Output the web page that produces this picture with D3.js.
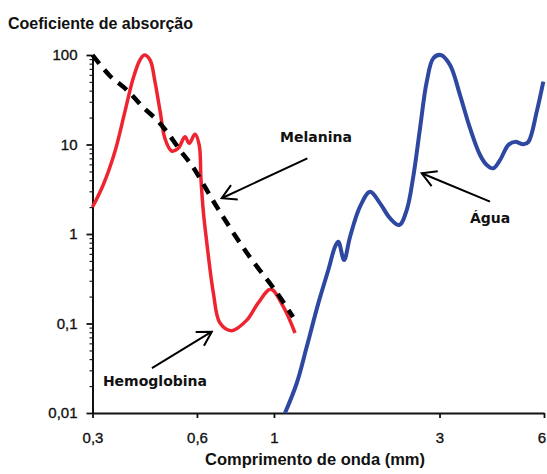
<!DOCTYPE html>
<html>
<head>
<meta charset="utf-8">
<script src="https://cdn.jsdelivr.net/npm/d3@7"></script>
<style>
  body { margin: 0; background: #fff; }
  svg { display: block; }
</style>
</head>
<body>
<div id="chart"></div>
<script>
// Hemoglobina (wavelength mm, absorption)
const hbX = [0.30, 0.322, 0.348, 0.372, 0.393, 0.411, 0.423, 0.4395, 0.454, 0.470, 0.485, 0.507, 0.530, 0.554, 0.570, 0.592, 0.609, 0.616, 0.626, 0.640, 0.669, 0.699, 0.755, 0.835, 0.90, 0.979, 1.064, 1.150];
const hbY = [2.0, 3.53, 8.31, 23.3, 54.9, 87.9, 100, 87.9, 50.3, 23.3, 11.7, 8.46, 9.07, 12.2, 10.3, 13.0, 9.87, 4.19, 1.77, 0.82, 0.219, 0.101, 0.0831, 0.109, 0.169, 0.241, 0.154, 0.0783];

// Melanina
const melX = [0.30, 0.337, 0.377, 0.419, 0.460, 0.492, 0.536, 0.584, 0.685, 0.836, 1.021, 1.135];
const melY = [100, 58.3, 40.6, 26.2, 18.8, 13.8, 8.68, 5.61, 2.00, 0.613, 0.219, 0.118];

// Água
const aguaX = [1.076, 1.163, 1.243, 1.342, 1.434, 1.500, 1.533, 1.592, 1.657, 1.770, 1.892, 2.022, 2.160, 2.297, 2.413, 2.522, 2.636, 2.756, 2.879, 3.024, 3.216, 3.437, 3.673, 3.925, 4.104, 4.288, 4.483, 4.736, 4.952, 5.233, 5.409, 5.718, 5.973];
const aguaY = [0.01, 0.0215, 0.055, 0.168, 0.396, 0.721, 0.82, 0.512, 0.933, 2.02, 2.97, 2.20, 1.50, 1.26, 1.85, 4.45, 15.2, 50.3, 91.9, 100, 77.3, 35.7, 15.2, 7.63, 5.90, 5.42, 6.71, 9.87, 10.7, 10.05, 10.7, 23.3, 50.3];

const xTicks = [0.3, 0.6, 1, 3, 6];
const xTickLabels = ["0,3", "0,6", "1", "3", "6"];
const yTicks = [0.01, 0.1, 1, 10, 100];
const yTickLabels = ["0,01", "0,1", "1", "10", "100"];

// annotation labels and arrows, in data units
const labelNames = ["Melanina", "Hemoglobina", "Água"];
const labelX = [1.322, 0.454, 4.194];
const labelY = [10.7, 0.020, 1.33];
const arrowFromX = [1.248, 0.445, 4.194];
const arrowFromY = [7.01, 0.0318, 2.30];
const arrowToX = [0.707, 0.662, 2.666];
const arrowToY = [2.51, 0.081, 4.77];

const width = 547, height = 474;
const margin = { top: 55, right: 3, bottom: 61, left: 92.5 };

const svg = d3.select("#chart").append("svg")
  .attr("width", width)
  .attr("height", height);

const x = d3.scaleLog().domain([0.3, 6]).range([margin.left, width - margin.right]);
const y = d3.scaleLog().domain([0.01, 100]).range([height - margin.bottom, margin.top]);

// minor y ticks 2..9 per decade
const yMinor = [];
for (let d = 0.01; d < 100; d *= 10) {
  for (let k = 2; k <= 9; k++) yMinor.push(+(d * k).toPrecision(3));
}

svg.append("g")
  .attr("transform", `translate(${margin.left},0)`)
  .call(d3.axisLeft(y).tickValues(yMinor).tickSize(3).tickFormat(""))
  .call(g => g.select(".domain").remove())
  .selectAll("line").attr("stroke", "#222").attr("stroke-width", 1.2);

const yAxis = svg.append("g")
  .attr("transform", `translate(${margin.left},0)`)
  .call(d3.axisLeft(y).tickValues(yTicks).tickSize(6).tickSizeOuter(0).tickPadding(9)
    .tickFormat((d, i) => yTickLabels[i]));

const xAxis = svg.append("g")
  .attr("transform", `translate(0,${height - margin.bottom})`)
  .call(d3.axisBottom(x).tickValues(xTicks).tickSize(5).tickSizeOuter(0).tickPadding(14)
    .tickFormat((d, i) => xTickLabels[i]));

// last label sits against the right edge
xAxis.selectAll(".tick text").filter(d => d === 6)
  .attr("text-anchor", "end").attr("dx", 1.5);

[xAxis, yAxis].forEach(g => {
  g.select(".domain").attr("stroke", "#111").attr("stroke-width", 2);
  g.selectAll(".tick line").attr("stroke", "#111").attr("stroke-width", 1.8);
  g.selectAll("text")
    .attr("font-family", "Liberation Sans, Arial, sans-serif")
    .attr("font-size", 15)
    .attr("fill", "#111")
    .attr("stroke", "#111")
    .attr("stroke-width", 0.35);
});

const line = d3.line()
  .x(d => x(d[0]))
  .y(d => y(d[1]))
  .curve(d3.curveCatmullRom.alpha(0.5));

svg.append("path")
  .datum(aguaX.map((v, i) => [v, aguaY[i]]))
  .attr("fill", "none")
  .attr("stroke", "#2e48a2")
  .attr("stroke-width", 4)
  .attr("d", line);

svg.append("path")
  .datum(hbX.map((v, i) => [v, hbY[i]]))
  .attr("fill", "none")
  .attr("stroke", "#ee2430")
  .attr("stroke-width", 3.5)
  .attr("d", line);

svg.append("path")
  .datum(melX.map((v, i) => [v, melY[i]]))
  .attr("fill", "none")
  .attr("stroke", "#000")
  .attr("stroke-width", 4.5)
  .attr("stroke-dasharray", "11,8")
  .attr("d", line);

// arrows
svg.append("defs").append("marker")
  .attr("id", "head")
  .attr("viewBox", "-16 -10 18 20")
  .attr("refX", 0).attr("refY", 0)
  .attr("markerWidth", 18).attr("markerHeight", 20)
  .attr("markerUnits", "userSpaceOnUse")
  .attr("orient", "auto")
  .append("path")
  .attr("d", "M-14,-8 L0,0 L-14,8")
  .attr("fill", "none")
  .attr("stroke", "#000")
  .attr("stroke-width", 2);

labelNames.forEach((name, i) => {
  svg.append("line")
    .attr("x1", x(arrowFromX[i])).attr("y1", y(arrowFromY[i]))
    .attr("x2", x(arrowToX[i])).attr("y2", y(arrowToY[i]))
    .attr("stroke", "#000")
    .attr("stroke-width", 2)
    .attr("marker-end", "url(#head)");

  svg.append("text")
    .attr("x", x(labelX[i]))
    .attr("y", y(labelY[i]))
    .attr("text-anchor", "middle")
    .attr("font-family", "DejaVu Sans, sans-serif")
    .attr("font-weight", "bold")
    .attr("font-size", 14)
    .attr("fill", "#111")
    .text(name);
});

svg.append("text")
  .attr("x", 8)
  .attr("y", 29)
  .attr("font-family", "Liberation Sans, Arial, sans-serif")
  .attr("font-weight", "bold")
  .attr("font-size", 16)
  .attr("fill", "#111")
  .text("Coeficiente de absorção");

svg.append("text")
  .attr("x", 315)
  .attr("y", 465)
  .attr("text-anchor", "middle")
  .attr("font-family", "Liberation Sans, Arial, sans-serif")
  .attr("font-weight", "bold")
  .attr("font-size", 16.5)
  .attr("fill", "#111")
  .text("Comprimento de onda (mm)");
</script>
</body>
</html>
